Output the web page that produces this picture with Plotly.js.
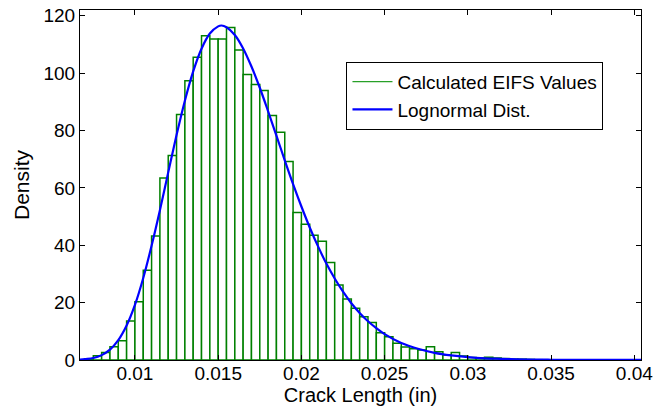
<!DOCTYPE html>
<html>
<head>
<meta charset="utf-8">
<script src="https://cdn.plot.ly/plotly-3.0.1.min.js"></script>
<style>
  html, body { margin: 0; padding: 0; background: #fff; }
  #chart { width: 653px; height: 407px; }
</style>
</head>
<body>
<div id="chart"></div>
<script>
// Histogram bins: left edges (in) and density heights
const binLeft = [0.0070, 0.0075, 0.0080, 0.0085, 0.0090, 0.0095, 0.0100, 0.0105, 0.0110, 0.0115,
                 0.0120, 0.0125, 0.0130, 0.0135, 0.0140, 0.0145, 0.0150, 0.0155, 0.0160, 0.0165,
                 0.0170, 0.0175, 0.0180, 0.0185, 0.0190, 0.0195, 0.0200, 0.0205, 0.0210, 0.0215,
                 0.0220, 0.0225, 0.0230, 0.0235, 0.0240, 0.0245, 0.0250, 0.0255, 0.0260, 0.0265,
                 0.0270, 0.0275, 0.0280, 0.0285, 0.0290, 0.0295, 0.0300, 0.0305, 0.0310, 0.0315,
                 0.0320, 0.0325, 0.0330, 0.0335, 0.0340];
const binDensity = [0.4, 1.5, 2.6, 4.6, 6.7, 13.6, 20.3, 31.3, 43.2, 63.4,
                    71.3, 85.6, 97.3, 105.5, 113.0, 111.9, 111.9, 115.9, 108.1, 99.5,
                    96.0, 93.9, 85.2, 79.4, 69.2, 51.4, 47.3, 43.5, 41.4, 34.0,
                    26.1, 21.3, 18.0, 15.1, 13.1, 9.5, 8.1, 5.8, 4.5, 3.9,
                    3.5, 4.6, 2.9, 1.7, 2.6, 1.4, 0.9, 0.7, 1.0, 0.7,
                    0.5, 0.3, 0.3, 0.2, 0.1];
const binWidth = 0.0005;

// Lognormal fit curve
const curveX = [0.0067, 0.0070, 0.0075, 0.0080, 0.0085, 0.0090, 0.0095, 0.0100, 0.0105, 0.0110,
                0.0115, 0.0120, 0.0125, 0.0130, 0.0135, 0.0140, 0.0145, 0.0150, 0.0152, 0.0155,
                0.0160, 0.0165, 0.0170, 0.0175, 0.0180, 0.0185, 0.0190, 0.0195, 0.0200, 0.0205,
                0.0210, 0.0215, 0.0220, 0.0225, 0.0230, 0.0235, 0.0240, 0.0245, 0.0250, 0.0260,
                0.0270, 0.0280, 0.0290, 0.0300, 0.0310, 0.0320, 0.0330, 0.0340, 0.0350, 0.0360,
                0.0370, 0.0380, 0.0390, 0.0404];
const curveY = [0.1, 0.3, 0.7, 1.7, 3.6, 6.9, 12.0, 19.2, 28.6, 39.8,
                52.2, 65.4, 78.4, 90.4, 100.6, 108.5, 113.8, 116.3, 116.6, 116.0,
                113.3, 108.6, 102.3, 94.9, 86.7, 78.2, 69.6, 61.3, 53.5, 46.2,
                39.6, 33.6, 28.4, 23.8, 19.8, 16.4, 13.5, 11.1, 9.0, 5.9,
                3.9, 2.5, 1.6, 1.0, 0.6, 0.4, 0.23, 0.14, 0.09, 0.05,
                0.03, 0.02, 0.01, 0.01];

const xTicks = [0.01, 0.015, 0.02, 0.025, 0.03, 0.035, 0.04];
const xTickText = ['0.01', '0.015', '0.02', '0.025', '0.03', '0.035', '0.04'];
const yTicks = [0, 20, 40, 60, 80, 100, 120];

const FONT = 'Liberation Sans, Arial, Helvetica, sans-serif';
const GREEN = 'rgb(0,128,0)';

const traces = [
  {
    type: 'bar',
    x: binLeft,
    y: binDensity,
    width: binWidth,
    offset: 0,
    marker: { color: 'rgba(255,255,255,1)', line: { color: GREEN, width: 1.5 } },
    showlegend: false,
    hoverinfo: 'x+y'
  },
  {
    type: 'scatter',
    mode: 'lines',
    x: [null],
    y: [null],
    name: 'Calculated EIFS Values',
    line: { color: 'rgb(40,160,40)', width: 1.2 },
    showlegend: true
  },
  {
    type: 'scatter',
    mode: 'lines',
    x: curveX,
    y: curveY,
    name: 'Lognormal Dist.',
    line: { color: 'rgb(0,0,255)', width: 2.2, shape: 'spline' }
  }
];

const layout = {
  width: 653,
  height: 407,
  margin: { l: 80, r: 12, t: 10, b: 47 },
  paper_bgcolor: '#fff',
  plot_bgcolor: '#fff',
  font: { family: FONT, size: 19, color: '#000' },
  bargap: 0,
  showlegend: true,
  xaxis: {
    range: [0.0067, 0.0404],
    tickvals: xTicks,
    ticktext: xTickText,
    ticks: 'inside',
    ticklen: 5,
    tickcolor: '#000',
    showline: true,
    linecolor: '#000',
    linewidth: 1,
    mirror: 'ticks',
    showgrid: false,
    zeroline: false,
    ticklabeloverflow: 'allow',
    ticklabelstandoff: -4,
    tickfont: { family: FONT, size: 19, color: '#000' },
    title: { text: 'Crack Length (in)', font: { family: FONT, size: 20, color: '#000' }, standoff: 4 }
  },
  yaxis: {
    range: [0, 122],
    tickvals: yTicks,
    ticks: 'inside',
    ticklen: 5,
    tickcolor: '#000',
    showline: true,
    linecolor: '#000',
    linewidth: 1,
    mirror: 'ticks',
    showgrid: false,
    zeroline: false,
    tickfont: { family: FONT, size: 19, color: '#000' },
    title: { text: 'Density', font: { family: FONT, size: 21, color: '#000' }, standoff: 8 }
  },
  legend: {
    x: 0.475,
    y: 0.852,
    xanchor: 'left',
    yanchor: 'top',
    bgcolor: '#fff',
    bordercolor: '#000',
    borderwidth: 1,
    itemwidth: 40,
    font: { family: FONT, size: 19, color: '#000' },
    traceorder: 'normal'
  }
};

Plotly.newPlot('chart', traces, layout, { displayModeBar: false, staticPlot: true });
</script>
</body>
</html>
